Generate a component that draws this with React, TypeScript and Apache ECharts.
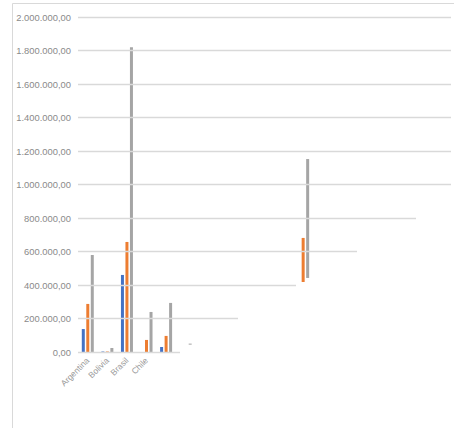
import React, { useEffect, useRef } from "react";
import * as echarts from "echarts";

const categories = [
  "Argentina", "Bolivia", "Brasil", "Chile", "", "", "", "", "", "",
  "", "", "", "", "", "", "", "", "",
];
const blueValues = [137000, 3000, 460000, 0, 30000, null, null, null, null, null, null, null, null, null, null, null, null, null, null];
const orangeValues = [287000, 3000, 657000, 72000, 96000, null, null, null, null, null, null, 681000, null, null, null, null, null, null, null];
const grayValues = [579000, 24000, 1820000, 239000, 293000, 50000, null, null, null, null, null, 1152000, null, null, null, null, null, null, null];
const orangeBase = [0, 0, 0, 0, 0, 0, 0, 0, 0, 0, 0, 418000, 0, 0, 0, 0, 0, 0, 0];
const grayBase = [0, 0, 0, 0, 0, 44000, 0, 0, 0, 0, 0, 442000, 0, 0, 0, 0, 0, 0, 0];
const yTicks = [0, 200000, 400000, 600000, 800000, 1000000, 1200000, 1400000, 1600000, 1800000, 2000000];
const gridEnds = [180, 238, 296, 357, 416, 451, 451, 451, 451, 451, 451];

function fmt(v: number): string {
  const int = Math.round(v).toString();
  const withDots = int.replace(/\B(?=(\d{3})+(?!\d))/g, ".");
  return withDots + ",00";
}

const FONT = "Liberation Sans";

export default function App() {
  const ref = useRef<HTMLDivElement>(null);
  useEffect(() => {
    if (!ref.current) return;
    const chart = echarts.init(ref.current, undefined, { renderer: "svg" });
    const heights = (top: (number | null)[], base: number[]) =>
      top.map((t, i) => (t == null ? null : t - base[i]));
    const bases = (top: (number | null)[], base: number[]) =>
      top.map((t, i) => (t == null ? null : base[i]));
    const transparent = { color: "rgba(0,0,0,0)" };
    chart.setOption({
      animation: false,
      graphic: [
        {
          type: "rect",
          shape: { x: 12.5, y: 3.5, width: 600, height: 600 },
          style: { fill: "none", stroke: "#d9d9d9", lineWidth: 1 },
          silent: true,
          z: -10,
        },
      ],
      grid: { left: 78, right: 4, top: 17, bottom: 76, containLabel: false },
      xAxis: {
        type: "category",
        data: categories,
        axisLine: { show: false },
        axisTick: { show: false },
        axisLabel: {
          rotate: 45,
          interval: 0,
          margin: 7,
          fontSize: 8.5,
          color: "#9a9a9a",
          fontFamily: FONT,
        },
      },
      yAxis: {
        type: "value",
        min: 0,
        max: 2000000,
        interval: 200000,
        axisLine: { show: false },
        axisTick: { show: false },
        splitLine: { show: false },
        axisLabel: {
          margin: 7,
          fontSize: 9.4,
          color: "#8a8a8a",
          fontFamily: FONT,
          formatter: (v: number) => fmt(v),
        },
      },
      series: [
        {
          type: "bar",
          stack: "b",
          data: blueValues.map(() => 0),
          itemStyle: transparent,
          barWidth: 3,
          barGap: "50%",
          silent: true,
          markLine: {
            silent: true,
            symbol: "none",
            label: { show: false },
            lineStyle: { color: "#d9d9d9", width: 1.3, type: "solid" },
            data: yTicks.map((v, i) => [
              { xAxis: 0, yAxis: v, x: 78 },
              { xAxis: 0, yAxis: v, x: gridEnds[i] },
            ]),
          },
        },
        {
          type: "bar",
          stack: "b",
          data: blueValues,
          itemStyle: { color: "#4472C4" },
          barWidth: 3,
          barGap: "50%",
        },
        {
          type: "bar",
          stack: "o",
          data: bases(orangeValues, orangeBase),
          itemStyle: transparent,
          barWidth: 3,
          barGap: "50%",
          silent: true,
        },
        {
          type: "bar",
          stack: "o",
          data: heights(orangeValues, orangeBase),
          itemStyle: { color: "#ED7D31" },
          barWidth: 3,
          barGap: "50%",
        },
        {
          type: "bar",
          stack: "g",
          data: bases(grayValues, grayBase),
          itemStyle: transparent,
          barWidth: 3,
          barGap: "50%",
          silent: true,
        },
        {
          type: "bar",
          stack: "g",
          data: heights(grayValues, grayBase),
          itemStyle: { color: "#A5A5A5" },
          barWidth: 3,
          barGap: "50%",
        },
      ],
    });
    return () => chart.dispose();
  }, []);
  return (
    <div
      ref={ref}
      style={{ position: "fixed", left: 0, top: 0, width: 454, height: 428, background: "#fff" }}
    />
  );
}
